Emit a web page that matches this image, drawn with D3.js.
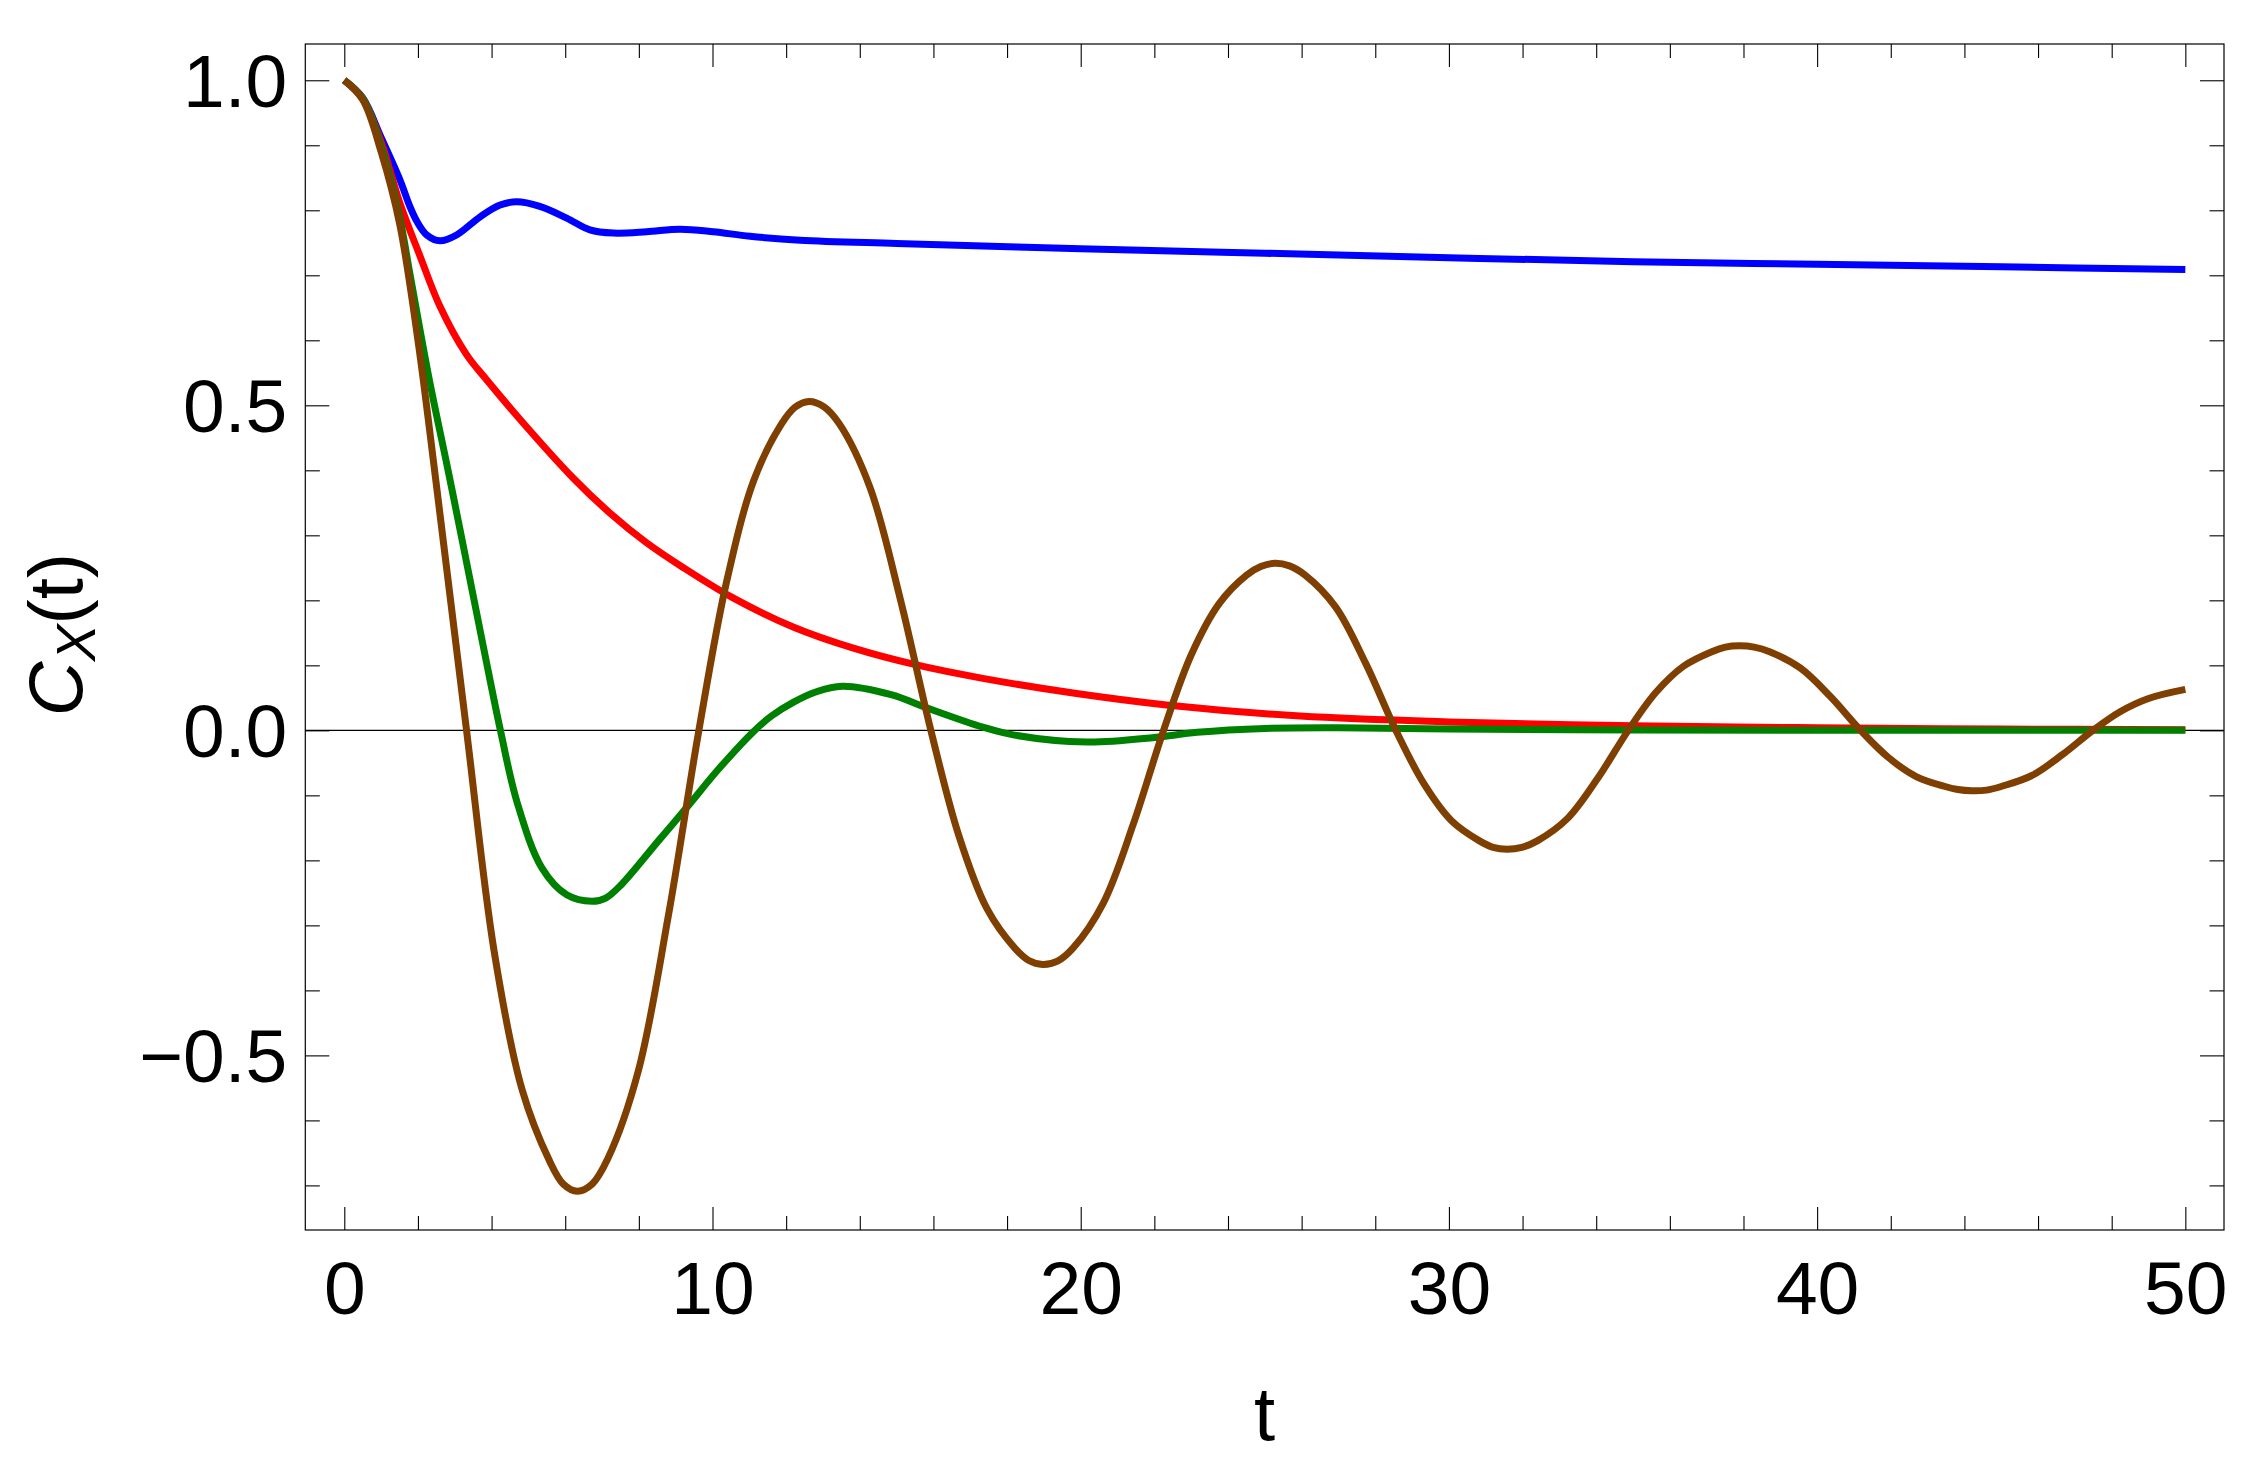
<!DOCTYPE html>
<html>
<head>
<meta charset="utf-8">
<script src="https://cdn.jsdelivr.net/npm/d3@7"></script>
<style>
  html, body { margin: 0; padding: 0; background: #ffffff; }
  svg { display: block; }
  text { font-family: "Liberation Sans", Arial, Helvetica, sans-serif; fill: #000; }
</style>
</head>
<body>
<svg id="chart" width="2266" height="1470"></svg>
<script>
// ---------------- data ----------------
const tBlue = [0, 0.5, 1.0, 1.51, 1.78, 1.97, 2.24, 2.6, 3.05, 3.69, 4.23, 4.68, 5.31, 6.04, 6.67, 7.31, 8.21, 9.12, 10.02, 11.02, 12.38, 15, 20, 25, 30, 35, 40, 45, 50];
const vBlue = [1, 0.973, 0.912, 0.847, 0.806, 0.783, 0.762, 0.753, 0.762, 0.790, 0.808, 0.813, 0.806, 0.788, 0.770, 0.765, 0.767, 0.771, 0.767, 0.760, 0.754, 0.749, 0.741, 0.734, 0.727, 0.721, 0.717, 0.713, 0.709];

const tRed = [0, 0.5, 1.0, 1.51, 2.06, 2.6, 3.32, 3.87, 4.87, 6.20, 7.20, 8.20, 9.19, 10.52, 12.19, 13.85, 15.51, 17.34, 19.84, 22.33, 25.96, 30, 35, 40, 45, 50];
const vRed = [1, 0.972, 0.905, 0.811, 0.729, 0.652, 0.578, 0.539, 0.472, 0.389, 0.335, 0.289, 0.251, 0.205, 0.159, 0.126, 0.101, 0.080, 0.057, 0.039, 0.022, 0.013, 0.007, 0.004, 0.002, 0.001];

const tGreen = [0, 0.5, 1.0, 1.5, 1.78, 2.29, 2.8, 3.21, 3.79, 4.24, 4.70, 5.37, 6.04, 6.73, 7.1, 7.53, 8.53, 9.28, 10.19, 11.11, 11.6, 12.19, 12.8, 13.52, 14.85, 15.85, 17.34, 18.17, 20.17, 22.0, 23.16, 25.0, 27.0, 30, 35, 40, 45, 50];
const vGreen = [1, 0.972, 0.898, 0.79, 0.703, 0.545, 0.405, 0.290, 0.125, 0, -0.112, -0.212, -0.253, -0.263, -0.258, -0.237, -0.170, -0.120, -0.058, -0.002, 0.022, 0.043, 0.059, 0.068, 0.055, 0.034, 0.005, -0.007, -0.018, -0.011, -0.003, 0.003, 0.004, 0.002, 0.0005, 0, 0, 0];

const tBrown = [0, 0.5, 1.0, 1.5, 2.0, 2.5, 3.32,
  4.07, 4.83, 5.58, 5.95, 6.33, 6.73, 7.155, 7.98, 8.805, 9.63,
  10.38, 11.125, 11.87, 12.24, 12.62, 13.02, 13.45, 14.275, 15.10, 15.93,
  16.69, 17.45, 18.21, 18.59, 18.97, 19.37, 19.79, 20.61, 21.43, 22.25,
  23.0, 23.76, 24.51, 24.89, 25.27, 25.67, 26.09, 26.92, 27.74, 28.56,
  29.32, 30.07, 30.83, 31.2, 31.58, 31.98, 32.40, 33.23, 34.05, 34.87,
  35.63, 36.38, 37.14, 37.51, 37.89, 38.29, 38.71, 39.54, 40.36, 41.18,
  41.94, 42.69, 43.45, 43.82, 44.2, 44.6, 45.02, 45.85, 46.67, 47.49,
  48.24, 49.0, 50];
const vBrown = [1, 0.970, 0.890, 0.780, 0.600, 0.378, 0,
  -0.340, -0.553, -0.663, -0.698, -0.709, -0.698, -0.659, -0.525, -0.284, 0,
  0.228, 0.385, 0.471, 0.497, 0.506, 0.498, 0.471, 0.374, 0.202, 0,
  -0.162, -0.274, -0.335, -0.354, -0.360, -0.355, -0.335, -0.266, -0.144, 0,
  0.116, 0.195, 0.239, 0.252, 0.257, 0.253, 0.239, 0.190, 0.103, 0,
  -0.082, -0.139, -0.170, -0.180, -0.183, -0.180, -0.170, -0.135, -0.073, 0,
  0.059, 0.099, 0.121, 0.128, 0.130, 0.128, 0.121, 0.096, 0.052, 0,
  -0.042, -0.071, -0.086, -0.091, -0.093, -0.092, -0.086, -0.069, -0.037, 0,
  0.029, 0.049, 0.063];

const xMajorTicks = [0, 10, 20, 30, 40, 50];
const xMinorTicks = [2, 4, 6, 8, 12, 14, 16, 18, 22, 24, 26, 28, 32, 34, 36, 38, 42, 44, 46, 48];
const yMajorTicks = [-0.5, 0, 0.5, 1.0];
const yMinorTicks = [-0.7, -0.6, -0.4, -0.3, -0.2, -0.1, 0.1, 0.2, 0.3, 0.4, 0.6, 0.7, 0.8, 0.9];
const xTickLabels = ["0", "10", "20", "30", "40", "50"];
const yTickLabels = ["\u22120.5", "0.0", "0.5", "1.0"];

const seriesList = [
  { t: tBlue,  v: vBlue,  color: "#0000ff" },
  { t: tRed,   v: vRed,   color: "#ff0000" },
  { t: tGreen, v: vGreen, color: "#008000" },
  { t: tBrown, v: vBrown, color: "#7f3f00" }
];

// ---------------- layout ----------------
const L = 305.3, R = 2224, T = 44, B = 1230;
const x = d3.scaleLinear().domain([-1.059, 51.05]).range([L, R]);
const y = d3.scaleLinear().domain([-0.7686, 1.0558]).range([B, T]);

const svg = d3.select("#chart");
svg.append("rect").attr("width", 2266).attr("height", 1470).attr("fill", "#fff");

// zero line
svg.append("line")
  .attr("x1", L).attr("x2", R)
  .attr("y1", y(0)).attr("y2", y(0))
  .attr("stroke", "#000").attr("stroke-width", 1.1);

// curves
const line = d3.line().x(d => x(d[0])).y(d => y(d[1])).curve(d3.curveCatmullRom.alpha(0.5));
const g = svg.append("g");
seriesList.forEach(s => {
  const pts = s.t.map((t, i) => [t, s.v[i]]);
  g.append("path")
    .attr("d", line(pts))
    .attr("fill", "none")
    .attr("stroke", s.color)
    .attr("stroke-width", 7)
    .attr("stroke-linejoin", "round")
    .attr("stroke-linecap", "butt");
});

// ticks via axes
function addAxis(axis, tx, ty) {
  const a = svg.append("g").attr("transform", `translate(${tx},${ty})`).call(axis);
  a.select(".domain").remove();
  a.selectAll(".tick line").attr("stroke", "#000").attr("stroke-width", 1.1);
  a.selectAll(".tick text").remove();
  return a;
}
addAxis(d3.axisTop(x).tickValues(xMajorTicks).tickSize(23).tickSizeOuter(0), 0, B);
addAxis(d3.axisTop(x).tickValues(xMinorTicks).tickSize(14).tickSizeOuter(0), 0, B);
addAxis(d3.axisBottom(x).tickValues(xMajorTicks).tickSize(23).tickSizeOuter(0), 0, T);
addAxis(d3.axisBottom(x).tickValues(xMinorTicks).tickSize(14).tickSizeOuter(0), 0, T);
addAxis(d3.axisRight(y).tickValues(yMajorTicks).tickSize(24).tickSizeOuter(0), L, 0);
addAxis(d3.axisRight(y).tickValues(yMinorTicks).tickSize(14.5).tickSizeOuter(0), L, 0);
addAxis(d3.axisLeft(y).tickValues(yMajorTicks).tickSize(24).tickSizeOuter(0), R, 0);
addAxis(d3.axisLeft(y).tickValues(yMinorTicks).tickSize(14.5).tickSizeOuter(0), R, 0);

// tick labels via axes
const xl = svg.append("g").attr("transform", `translate(0,${B})`)
  .call(d3.axisBottom(x).tickValues(xMajorTicks).tickSize(0).tickFormat((d, i) => xTickLabels[i]));
xl.select(".domain").remove();
xl.selectAll(".tick text")
  .attr("y", 84).attr("dy", null)
  .attr("font-size", 75).attr("fill", "#000")
  .style("font-family", '"Liberation Sans", Arial, sans-serif');

const yl = svg.append("g").attr("transform", `translate(${L},0)`)
  .call(d3.axisLeft(y).tickValues(yMajorTicks).tickSize(0).tickFormat((d, i) => yTickLabels[i]));
yl.select(".domain").remove();
yl.selectAll(".tick text")
  .attr("x", -18).attr("dy", 26)
  .attr("text-anchor", "end")
  .attr("font-size", 75).attr("fill", "#000")
  .style("font-family", '"Liberation Sans", Arial, sans-serif');

// frame
svg.append("rect")
  .attr("x", L).attr("y", T)
  .attr("width", R - L).attr("height", B - T)
  .attr("fill", "none").attr("stroke", "#000").attr("stroke-width", 1.2);

// axis titles
svg.append("text")
  .attr("x", (L + R) / 2).attr("y", 1440)
  .attr("text-anchor", "middle")
  .attr("font-size", 76)
  .text("t");

const yt = svg.append("text")
  .attr("transform", "translate(82,634.5) rotate(-90)")
  .attr("text-anchor", "middle")
  .attr("font-size", 76);
yt.append("tspan").attr("font-style", "italic").text("C");
yt.append("tspan").attr("font-style", "italic").attr("font-size", 55).attr("dy", 13).text("X");
yt.append("tspan").attr("dy", -13).text("(t)");
</script>
</body>
</html>
